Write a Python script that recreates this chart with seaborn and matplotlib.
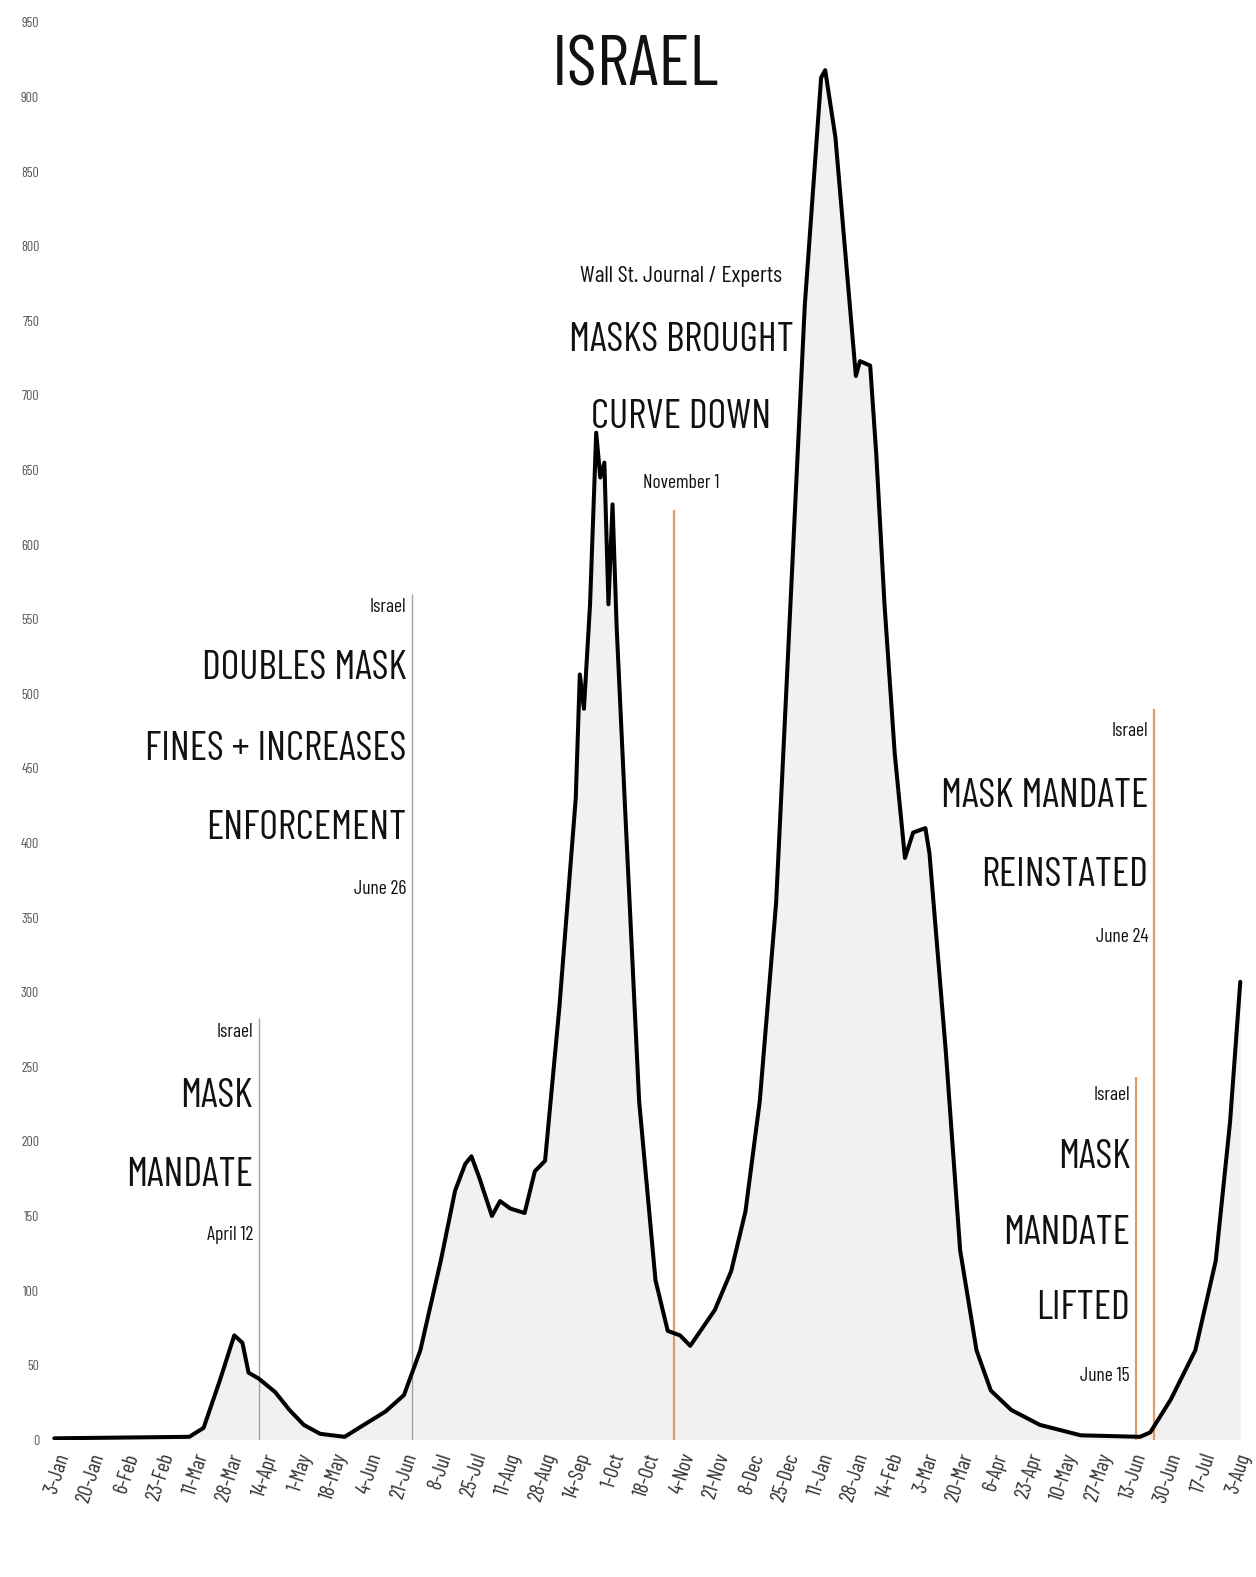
import numpy as np
import pandas as pd
import matplotlib
matplotlib.use("Agg")
import matplotlib.pyplot as plt
import matplotlib.transforms as mtransforms
from matplotlib import font_manager
import seaborn as sns

# daily new cases per million (7-day avg)
dates = [
    "2020-01-03", "2020-03-09", "2020-03-16", "2020-03-24", "2020-03-31", "2020-04-04",
    "2020-04-07", "2020-04-12", "2020-04-20", "2020-04-27", "2020-05-04", "2020-05-12",
    "2020-05-24", "2020-05-31", "2020-06-13", "2020-06-22", "2020-06-30", "2020-07-10",
    "2020-07-17", "2020-07-22", "2020-07-25", "2020-07-29", "2020-08-04", "2020-08-08",
    "2020-08-13", "2020-08-20", "2020-08-25", "2020-08-30", "2020-09-06", "2020-09-14",
    "2020-09-16", "2020-09-18", "2020-09-21", "2020-09-24", "2020-09-26", "2020-09-28",
    "2020-09-30", "2020-10-02", "2020-10-04", "2020-10-08", "2020-10-15", "2020-10-23",
    "2020-10-29", "2020-11-04", "2020-11-09", "2020-11-14", "2020-11-21", "2020-11-29",
    "2020-12-06", "2020-12-13", "2020-12-21", "2020-12-28", "2021-01-04", "2021-01-12",
    "2021-01-14", "2021-01-19", "2021-01-24", "2021-01-29", "2021-01-31", "2021-02-05",
    "2021-02-08", "2021-02-12", "2021-02-17", "2021-02-22", "2021-02-26", "2021-03-04",
    "2021-03-06", "2021-03-14", "2021-03-21", "2021-03-29", "2021-04-05", "2021-04-15",
    "2021-04-29", "2021-05-19", "2021-06-17", "2021-06-22", "2021-07-02", "2021-07-14",
    "2021-07-24", "2021-07-31", "2021-08-05",
]
cases = [
    1, 2, 8, 40, 70, 65,
    45, 41, 32, 20, 10, 4,
    2, 8, 19, 30, 60, 120,
    167, 185, 190, 175, 150, 160,
    155, 152, 180, 187, 290, 430,
    513, 490, 560, 675, 645, 655,
    560, 627, 545, 427, 227, 107,
    73, 70, 63, 73, 87, 113,
    153, 227, 360, 560, 760, 913,
    918, 873, 793, 713, 723, 720,
    660, 560, 460, 390, 407, 410,
    393, 260, 127, 60, 33, 20,
    10, 3, 2, 5, 27, 60,
    120, 213, 307,
]

tick_labels = [
    "3-Jan", "20-Jan", "6-Feb", "23-Feb", "11-Mar", "28-Mar", "14-Apr", "1-May",
    "18-May", "4-Jun", "21-Jun", "8-Jul", "25-Jul", "11-Aug", "28-Aug", "14-Sep",
    "1-Oct", "18-Oct", "4-Nov", "21-Nov", "8-Dec", "25-Dec", "11-Jan", "28-Jan",
    "14-Feb", "3-Mar", "20-Mar", "6-Apr", "23-Apr", "10-May", "27-May", "13-Jun",
    "30-Jun", "17-Jul", "3-Aug",
]
y_ticks = list(range(0, 951, 50))

# annotation lines
event_dates = ["2020-04-12", "2020-06-26", "2020-11-01", "2021-06-15", "2021-06-24"]
event_tops = [283, 567, 623, 243, 490]
event_colors = ["#a0a0a0", "#a0a0a0", "#e39a6a", "#e39a6a", "#e39a6a"]

# annotation texts: (event index, text, y value, size kind)
notes = [
    (0, "Israel", 273, "s"), (0, "MASK", 230, "b"), (0, "MANDATE", 177, "b"), (0, "April 12", 137, "s"),
    (1, "Israel", 558, "s"), (1, "DOUBLES MASK", 517, "b"), (1, "FINES + INCREASES", 463, "b"),
    (1, "ENFORCEMENT", 410, "b"), (1, "June 26", 369, "s"),
    (2, "Wall St. Journal / Experts", 780, "m"), (2, "MASKS BROUGHT", 737, "b"),
    (2, "CURVE DOWN", 685, "b"), (2, "November 1", 641, "s"),
    (4, "Israel", 475, "s"), (4, "MASK MANDATE", 431, "b"), (4, "REINSTATED", 378, "b"), (4, "June 24", 337, "s"),
    (3, "Israel", 231, "s"), (3, "MASK", 189, "b"), (3, "MANDATE", 138, "b"), (3, "LIFTED", 88, "b"),
    (3, "June 15", 43, "s"),
]

sns.set_theme(style="white")

names = {f.name for f in font_manager.fontManager.ttflist}
pick = "DejaVu Sans"
for cand in ["Barlow Condensed", "Fira Sans Extra Condensed", "Roboto Condensed",
             "Liberation Sans Narrow"]:
    if cand in names:
        pick = cand
        break
plt.rcParams["font.family"] = [pick, "DejaVu Sans"]

df = pd.DataFrame({"date": pd.to_datetime(dates), "cases": cases})

fig = plt.figure(figsize=(12.56, 15.77), dpi=100)
ax = fig.add_axes([0.040, 0.087, 0.954, 0.9035])

ax.fill_between(df["date"], df["cases"], color="#f1f1f1", linewidth=0, zorder=0)
sns.lineplot(data=df, x="date", y="cases", ax=ax, color="black", linewidth=2.9, zorder=3)

ev = pd.to_datetime(event_dates)
for d, top, c in zip(ev, event_tops, event_colors):
    ax.vlines(d, 0, top, color=c, linewidth=1.6 if c != "#a0a0a0" else 1.0, zorder=2)

sizes = {"b": 29, "m": 17, "s": 14}
for idx, txt, yv, kind in notes:
    if idx == 2:
        tr = mtransforms.offset_copy(ax.transData, fig=fig, x=7, y=0, units="dots")
        ha = "center"
    else:
        tr = mtransforms.offset_copy(ax.transData, fig=fig, x=-6, y=0, units="dots")
        ha = "right"
    ax.text(ev[idx], yv, txt, transform=tr, ha=ha, va="center", fontsize=sizes[kind],
            color="#111111", zorder=4)

fig.text(0.5056, 0.9575, "ISRAEL", ha="center", va="center", fontsize=52, color="#111111")

tick_pos = pd.date_range("2020-01-03", periods=len(tick_labels), freq="17D")
ax.set_xticks(tick_pos)
ax.set_xticklabels(tick_labels, rotation=72, ha="right", rotation_mode="anchor",
                   fontsize=15, color="#333333")
ax.set_yticks(y_ticks)
ax.set_yticklabels([str(v) for v in y_ticks], fontsize=10, color="#555555")
ax.tick_params(axis="both", length=0, pad=8)
ax.set_xlim(pd.Timestamp("2020-01-01"), pd.Timestamp("2021-08-09"))
ax.set_ylim(0, 955)
ax.set_xlabel("")
ax.set_ylabel("")
sns.despine(ax=ax, left=True, bottom=True)

fig.savefig("out.png", dpi=100)
